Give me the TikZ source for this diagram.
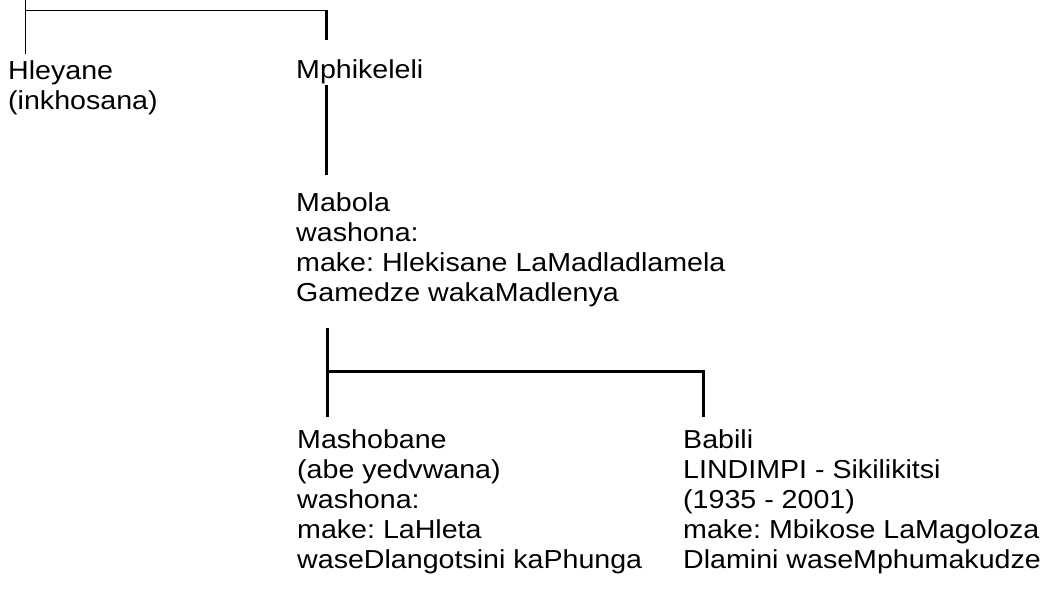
\documentclass[tikz,border=0pt]{standalone}
\usepackage{fontspec}
\setmainfont{Liberation Sans}[FakeStretch=1.1]
\frenchspacing
\begin{document}
\begin{tikzpicture}[x=1pt,y=-1pt,
  person/.style={anchor=base west,inner sep=0pt,align=left,font=\fontsize{26}{30}\selectfont\frenchspacing},
  thinline/.style={line width=1pt,black},
  thickline/.style={line width=3pt,black}]
\useasboundingbox (0,0) rectangle (1052,590);
% people (anchor = baseline of the last line)
\node[person] (hleyane) at (8,109) {Hleyane\\(inkhosana)};
\node[person] (mph) at (296,78) {Mphikeleli};
\node[person] (mabola) at (296,301) {Mabola\\washona:\\make: Hlekisane LaMadladlamela\\Gamedze wakaMadlenya};
\node[person] (mash) at (297,568) {Mashobane\\(abe yedvwana)\\washona:\\make: LaHleta\\waseDlangotsini kaPhunga};
\node[person] (babili) at (683,568) {Babili\\LINDIMPI - Sikilikitsi\\(1935 - 2001)\\make: Mbikose LaMagoloza\\Dlamini waseMphumakudze};
% junction coordinates
\coordinate (root) at (25,0);
\coordinate (j0) at (25,10);
\coordinate (hend) at (25,54);
\coordinate (j1) at (326,10);
\coordinate (mphtop) at (326,40);
\coordinate (mphbot) at (326,85);
\coordinate (mabtop) at (326,175);
\coordinate (mabbot) at (327,328);
\coordinate (j2) at (327,371);
\coordinate (mashtop) at (327,417);
\coordinate (j3) at (703,371);
\coordinate (babtop) at (703,417);
% connectors
\draw[thinline] (root) -- (hend);
\draw[thinline] (j0) -- (j1);
\draw[thickline] (j1) -- (mphtop);
\draw[thickline] (mphbot) -- (mabtop);
\draw[thickline] (mabbot) -- (mashtop);
\draw[thickline] (j2) -- (j3) -- (babtop);
\end{tikzpicture}
\end{document}
